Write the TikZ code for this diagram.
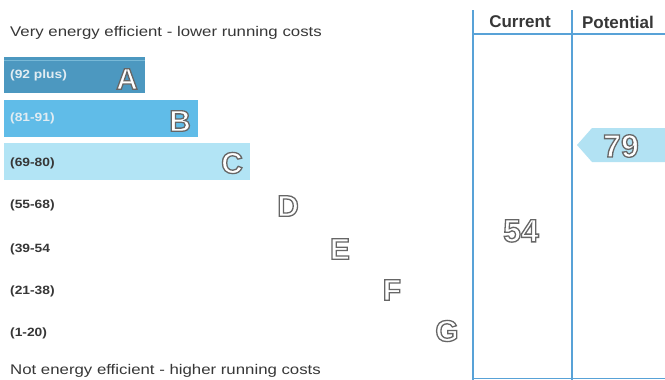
\documentclass[tikz,border=0pt]{standalone}
\usepackage{fontspec}
\setmainfont{Liberation Sans}
\usepackage{graphicx}
\definecolor{barA}{RGB}{76,152,192}
\definecolor{barAline}{RGB}{120,185,215}
\definecolor{barB}{RGB}{96,188,232}
\definecolor{barC}{RGB}{178,228,245}
\definecolor{arrowC}{RGB}{178,226,243}
\definecolor{gridblue}{RGB}{88,162,215}
\definecolor{txtgray}{RGB}{55,55,55}
\definecolor{lbllight}{RGB}{225,236,242}
\newcommand{\olet}[1]{\textcolor{white}{\special{pdf:literal direct 2 Tr 1.3 w 0.40 0.40 0.40 RG}#1\special{pdf:literal direct 0 Tr}}}
\newcommand{\wide}[1]{\scalebox{1.2}[1]{#1}}
\begin{document}
\begin{tikzpicture}[x=1pt,y=-1pt,
  bar/.style={draw=none,inner sep=0pt,anchor=north west},
  rating/.style={inner sep=0pt,font=\bfseries\fontsize{30}{30}\selectfont},
  score/.style={inner sep=0pt,font=\bfseries\fontsize{32}{32}\selectfont},
  rangelbl/.style={inner sep=0pt,anchor=west,text=txtgray,font=\bfseries\fontsize{12}{12}\selectfont},
  caption/.style={inner sep=0pt,anchor=west,text=txtgray,font=\fontsize{14}{14}\selectfont},
  header/.style={inner sep=0pt,text=txtgray,font=\bfseries\fontsize{17}{17}\selectfont},
  grid/.style={draw=gridblue,line width=1.3pt}]
\useasboundingbox (0,0) rectangle (665,380);
\fill[white] (0,0) rectangle (665,380);

% captions
\node[caption] (top) at (10,33) {\wide{Very energy efficient - lower running costs}};
\node[caption] (bottom) at (10,371) {\wide{Not energy efficient - higher running costs}};

% bars
\node[bar,fill=barA,minimum width=141pt,minimum height=36pt] (barA) at (4,57) {};
\draw[barAline,line width=1pt] ([yshift=-3pt]barA.north west) -- ([yshift=-3pt]barA.north east);
\node[bar,fill=barB,minimum width=194pt,minimum height=37pt] (barB) at (4,100) {};
\node[bar,fill=barC,minimum width=246pt,minimum height=37pt] (barC) at (4,143) {};

% range labels
\node[rangelbl,text=lbllight] (rA) at (10,75) {\scalebox{1.15}[1]{(92 plus)}};
\node[rangelbl,text=lbllight] (rB) at (10,118) {\scalebox{1.15}[1]{(81-91)}};
\node[rangelbl] (rC) at (10,163) {\scalebox{1.15}[1]{(69-80)}};
\node[rangelbl] (rD) at (10,205) {\scalebox{1.15}[1]{(55-68)}};
\node[rangelbl] (rE) at (10,249) {\scalebox{1.15}[1]{(39-54}};
\node[rangelbl] (rF) at (10,291) {\scalebox{1.15}[1]{(21-38)}};
\node[rangelbl] (rG) at (10,333) {\scalebox{1.15}[1]{(1-20)}};

% rating letters
\node[rating] (lA) at (127,79) {\olet{A}};
\node[rating] (lB) at (180,121) {\olet{B}};
\node[rating] (lC) at (232,163) {\olet{C}};
\node[rating] (lD) at (288,206) {\olet{D}};
\node[rating] (lE) at (340,249) {\olet{E}};
\node[rating] (lF) at (392,290) {\olet{F}};
\node[rating] (lG) at (447,331) {\olet{G}};

% table grid
\coordinate (c1t) at (473,10);
\coordinate (c1b) at (473,380);
\coordinate (c2t) at (572,10);
\coordinate (c2b) at (572,380);
\coordinate (hl) at (473,34);
\coordinate (hr) at (665,34);
\coordinate (bl) at (473,378.5);
\coordinate (br) at (665,378.5);
\draw[grid] (c1t) -- (c1b);
\draw[grid] (c2t) -- (c2b);
\draw[grid] (hl) -- (hr);
\draw[grid] (bl) -- (br);

% headers
\node[header] (hcur) at (520,22) {Current};
\node[header] (hpot) at (618,22) {Potential};

% potential arrow
\fill[arrowC] (577,145) -- (592,128) -- (665,128) -- (665,162) -- (592,162) -- cycle;
\node[score] (pot) at (621,146) {\olet{79}};

% current score
\node[score] (cur) at (521,231) {\olet{54}};
\end{tikzpicture}
\end{document}
